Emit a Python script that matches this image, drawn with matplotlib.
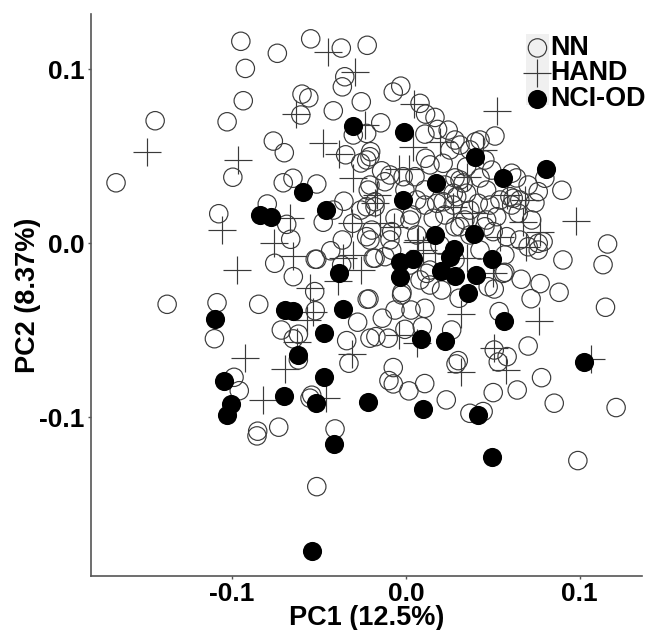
import matplotlib
matplotlib.use("Agg")
import matplotlib.pyplot as plt
from matplotlib.patches import Rectangle

plt.rcParams["font.family"] = ["Liberation Sans", "DejaVu Sans"]
plt.rcParams["font.weight"] = "bold"

# PC scores
nn_x = [-.0950, -.0740, -.0548, -.0372, -.0223, -.0924, -.0352, -.0366, -.0598, -.0559, -.0936, -.0257,
        -.0605, -.0418, -.1443, -.1029, -.0303, -.0763, -.0700, -.0347, -.0996, -.1668, -.0706, -.0650,
        -.0513, -.0260, -.0357, -.0798, -.1077, -.0418, -.0686, -.0476, -.0306, -.0663, -.0366, -.0433,
        -.0260, -.0217, -.0207, -.0226, -.0197, -.0755, -.0648, -.0522, -.0513, -.0370, -.0525, -.1374,
        -.1087, -.0847, -.0522, -.0223, -.1102, -.0717, -.0619, -.0648, -.0278, -.0341, -.0328, -.0619,
        -.0989, -.0959, -.0542, -.0552, -.0853, -.0857, -.0732, -.0408, -.0513, -.0207, .1160, .1134,
        .0903, .0663, .0772, .0881, .0720, .1148, .0569, .0508, .0473, .0205, .0306, -.0023, -.0213,
        .0536, .0109, .0029, -.0063, -.0136, -.0006, .0094, .0263, -.0173, -.0102, .0703, .0508, .0582,
        .0531, .0301, .0288, -.0073, -.0098, -.0073, .0017, .0108, .0780, .0640, .0502, .0232, .0368,
        .0444, .0853, .1209, .0989, -.0178, -.0082, -.0030, -.0073, .0081, .0113, .0167, .0182, -.0145,
        -.0226, .0512, .0243, .0109, .0282, .0401, -.0203, .0113, .0214, -.0140, -.0092, .0052, .0349,
        .0493, .0608, .0799, .0897, .0703, .0761, .0464, .0311, -.0226, -.0207, .0214, .0157, .0272,
        .0368, .0464, .0598, .0608, .0646, .0723, .0742, .0789, .0761, .0502, .0579, .0454, .0282, .0311,
        -.0226, -.0178, .0033, -.0082, .0062, -.0121, -.0016, .0177, .0062, .0292, .0416, .0522, -.0207,
        -.0092, -.0178, -.0063, .0023, -.0121, -.0188, .0138, .0119, -.0025, .0617, .0703, .0761, .0559,
        .0426, .0311, .0454, .0636, .0282, .0329, .0426, .0349, .0272, .0368, .0253, .0138, -.0006, .0109,
        .0224, .0541, .0483, .0339, .0224, .0109, .0368, .0655, .0196, .0426, .0282, .0138, .0023, .0569,
        .0655, .0081]
nn_y = [.1162, .1093, .1176, .1123, .1139, .1006, .0958, .0900, .0858, .0837, .0820, .0814,
        .0738, .0762, .0705, .0699, .0623, .0588, .0521, .0509, .0380, .0348, .0348, .0374,
        .0341, .0462, .0242, .0226, .0170, .0191, .0109, .0121, .0115, .0023, .0019, -.0043,
        .0191, .0306, .0498, .0038, .0076, -.0115, -.0192, -.0092, -.0092, -.0125, -.0278, -.0351,
        -.0342, -.0351, -.0388, -.0322, -.0549, -.0499, -.0523, -.0550, -.0454, -.0560, -.0690, -.0671,
        -.0771, -.0848, -.0874, -.0891, -.1081, -.1108, -.1058, -.1068, -.1400, -.0546, -.0004, -.0123,
        -.0096, -.0207, -.0232, -.0282, -.0319, -.0368, -.0167, -.0263, -.0250, -.0269, -.0316, -.0282, -.0320,
        -.0393, -.0374, -.0384, -.0384, -.0431, -.0495, -.0480, -.0499, -.0537, -.0546, -.0591, -.0614, -.0652,
        -.0683, -.0675, -.0694, -.0715, -.0790, -.0809, -.0849, -.0807, -.0773, -.0844, -.0859, -.0901, -.0978,
        -.0968, -.0920, -.0945, -.1250, -.0086, -.0039, .0904, .0870, .0805, .0743, .0724, .0655, .0693,
        .0632, .0617, .0651, .0628, .0594, .0584, .0527, .0489, .0460, .0417, .0393, .0383, .0440,
        .0421, .0403, .0374, .0305, .0335, .0297, .0306, .0364, .0479, .0335, .0239, .0144, .0220,
        .0191, .0134, .0268, .0220, .0173, .0134, .0233, .0009, .0000, .0067, .0038, .0095, .0095, .0095,
        .0210, .0210, .0163, .0067, .0048, .0354, .0383, .0230, .0249, .0268, .0230, .0153, .0019,
        .0019, .0239, .0144, .0134, -.0077, -.0086, -.0154, -.0173, -.0297, .0259, -.0020, -.0039, -.0173,
        .0594, .0565, .0479, .0376, .0376, .0347, .0376, .0288, .0288, .0537, .0537, .0451, .0307, .0307,
        .0335, .0249, .0220, .0134, .0163, .0220, .0048, .0249, -.0010, -.0039, -.0096, -.0240, -.0125, -.0067,
        .0019, -.0211]

hand_x = [-.0449, -.0293, -.0631, -.1489, -.0968, -.0477, -.0384, -.0303, -.0234, -.0665, -.0311, -.1060,
          -.0757, -.0973, -.0651, -.0303, -.0260, -.0389, -.0552, -.0533, -.0628, -.0568, -.0927, -.0311,
          -.0694, -.0822, -.0458, .0763, .0318, .0508, .0573, .0316, .1062, -.0039, .0065, .0688, .0502,
          .0349, .0098, .0167, .0522, .0046, .0978, .0042, -.0039, .0019, .0196, .0441, .0349, .0579, .0684,
          -.0178, -.0067, -.0150, .0771, .0674, .0071, .0541, .0272, .0378, -.0168, -.0361, .0065]
hand_y = [.1098, .0987, .0745, .0527, .0481, .0575, .0515, .0375, .0680, .0147, .0115, .0078,
          .0003, -.0155, -.0071, -.0067, -.0154, -.0215, -.0259, -.0397, -.0566, -.0441, -.0658, -.0635,
          -.0725, -.0899, -.0888, -.0447, -.0407, -.0604, -.0729, -.0738, -.0665, -.0527, -.0573, -.0020, -.0171,
          -.0085, -.0039, -.0056, .0761, .0799, .0130, .0555, .0426, .0426, .0584, .0536, .0383, .0278, .0249,
          .0230, .0095, .0115, .0067, .0124, .0019, .0038, .0210, .0173, .0278, -.0085, .0009]

nci_x = [-.0305, -.0012, .0397, .0805, .0558, .0174, -.0019, -.0594, -.0460, -.0840, -.0778, .0165, .0391,
         .0495, -.0035, .0042, .0276, .0253, .0201, .0282, .0403, .0357, -.0035, -.0385, -.0361, -.0694,
         -.0648, -.1097, -.0470, -.0619, .0564, .0085, .0224, -.0473, -.1045, -.0702, -.0518, -.1008, -.1029,
         -.0219, .0099, .0412, -.0414, .1022, .0495, -.0541]
nci_y = [.0675, .0642, .0498, .0427, .0377, .0348, .0249, .0293, .0190, .0164, .0153, .0049, .0053,
         -.0092, -.0106, -.0090, -.0035, -.0077, -.0159, -.0188, -.0184, -.0284, -.0196, -.0173, -.0378, -.0384,
         -.0388, -.0437, -.0514, -.0642, -.0447, -.0550, -.0564, -.0769, -.0790, -.0878, -.0918, -.0924, -.0986,
         -.0914, -.0953, -.0986, -.1154, -.0683, -.1231, -.1769]

ticks = [-0.1, 0.0, 0.1]

fig = plt.figure(figsize=(6.47, 6.30), dpi=100)
ax = fig.add_axes([91 / 647, 54 / 630, 551 / 647, 562 / 630])

ax.scatter(nn_x, nn_y, s=175, facecolors="none", edgecolors="#3a3a3a", linewidths=0.85, label="NN")
ax.scatter(hand_x, hand_y, s=378, marker="+", c="#3a3a3a", linewidths=0.85, label="HAND")
ax.scatter(nci_x, nci_y, s=190, c="black", linewidths=0, label="NCI-OD")

ax.set_xlim(-0.1812, 0.1358)
ax.set_ylim(-0.1914, 0.1319)
ax.set_xticks(ticks)
ax.set_yticks(ticks)
ax.set_xticklabels(["-0.1", "0.0", "0.1"])
ax.set_yticklabels(["-0.1", "0.0", "0.1"])
ax.tick_params(labelsize=19, length=2.5, width=1, color="#555555", pad=2)
ax.set_xlabel("PC1 (12.5%)", fontsize=19.5, fontweight="bold", labelpad=-0.8)
ax.set_ylabel("PC2 (8.37%)", fontsize=19.5, fontweight="bold", labelpad=-1)

ax.spines["top"].set_visible(False)
ax.spines["right"].set_visible(False)
ax.spines["left"].set_color("#555555")
ax.spines["bottom"].set_color("#555555")
ax.spines["left"].set_linewidth(1.2)
ax.spines["bottom"].set_linewidth(1.2)

# grey key background behind the legend markers
ax.add_patch(Rectangle((435 / 551, 471 / 562), 23 / 551, 71 / 562, transform=ax.transAxes,
                       facecolor="#f0f0f0", edgecolor="none", zorder=0))

ax.legend(loc="upper left", bbox_to_anchor=(435 / 551, 1 - 21 / 562), frameon=False, fontsize=19.4,
          borderpad=0, borderaxespad=0, handlelength=0.85, handletextpad=0.04, labelspacing=-0.02,
          markerscale=1.0)

plt.savefig("out.png", dpi=100)
